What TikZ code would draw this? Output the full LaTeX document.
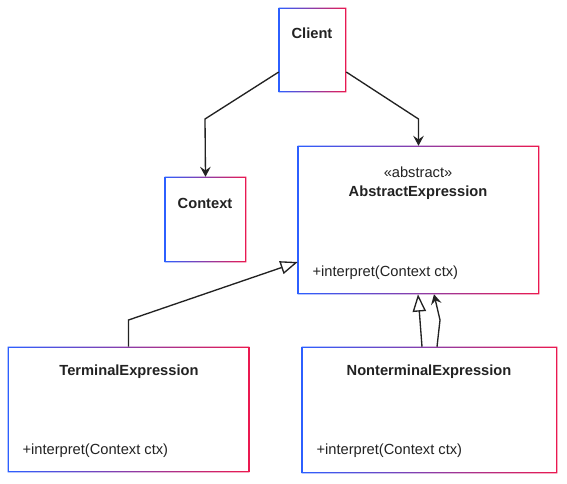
\documentclass[tikz,border=0pt]{standalone}
\usepackage{fontspec}
\setmainfont{Liberation Sans}
\usetikzlibrary{arrows.meta,positioning,fit}

\definecolor{cbleu}{RGB}{45,95,255}
\definecolor{crouge}{RGB}{235,25,80}
\definecolor{texte}{RGB}{34,34,34}

% cadre en degrade autour d'une classe
\newcommand{\cadre}[1]{%
  \shade[left color=cbleu, right color=crouge, even odd rule]
    (#1.south west) rectangle (#1.north east)
    ([shift={(0.9pt,0.9pt)}]#1.south west) rectangle ([shift={(-0.9pt,-0.9pt)}]#1.north east);}

\begin{document}
\begin{tikzpicture}[
    x=0.75pt, y=-0.75pt,
    >=Stealth,
    classe/.style={
        inner sep=0pt,
        fill=white
    },
    titre/.style={
        font=\fontsize{11}{13}\selectfont\bfseries,
        text=texte,
        inner sep=1pt
    },
    methode/.style={
        font=\fontsize{11}{13}\selectfont,
        text=texte,
        inner sep=1pt,
        anchor=west
    },
    fleche/.style={
        -{Stealth[length=7.5pt,width=8pt,inset=2.8pt]},
        line width=1pt,
        draw=texte
    },
    herit/.style={
        -{Triangle[open,length=13pt,width=10pt]},
        line width=1pt,
        draw=texte
    }
]

\useasboundingbox[fill=white] (0,0) rectangle (567,483);

% Classes
\node[classe, fit={(279,8) (346,92)}] (client) {};
\node[classe, fit={(165,177) (246,262)}] (context) {};
\node[classe, fit={(298,146) (539,294)}] (absexpr) {};
\node[classe, fit={(8,347) (249,472)}] (termexpr) {};
\node[classe, fit={(302,347) (557,473)}] (ntermexpr) {};

\cadre{client}
\cadre{context}
\cadre{absexpr}
\cadre{termexpr}
\cadre{ntermexpr}

% Texts
\node[titre] (tclient) at (312,33) {Client};
\node[titre] (tcontext) at (205,203) {Context};
\node[titre, font=\fontsize{11}{13}\selectfont] (stereo) at (418,172) {«abstract»};
\node[titre] (tabsexpr) at (418,193) {AbstractExpression};
\node[methode] (mabsexpr) at (311,273) {+interpret(Context ctx)};
\node[titre] (ttermexpr) at (129,372) {TerminalExpression};
\node[methode] (mtermexpr) at (21,451) {+interpret(Context ctx)};
\node[titre] (tntermexpr) at (429,372) {NonterminalExpression};
\node[methode] (mntermexpr) at (315,451) {+interpret(Context ctx)};

% Associations
\draw[fleche] ([shift={(0,22)}]client.west) -- (205,119) -- (context.north);
\draw[fleche] ([shift={(0,22)}]client.east) -- (418.5,119) -- (absexpr.north);
\draw[fleche] ([shift={(7.5,0)}]ntermexpr.north) -- (440,320) -- ([shift={(15.5,0)}]absexpr.south);

% Generalisations
\draw[herit] (termexpr.north) -- (128.5,320) -- ([shift={(0,42)}]absexpr.west);
\draw[herit] ([shift={(-7.5,0)}]ntermexpr.north) -- ([shift={(-0.5,0)}]absexpr.south);

\end{tikzpicture}
\end{document}
